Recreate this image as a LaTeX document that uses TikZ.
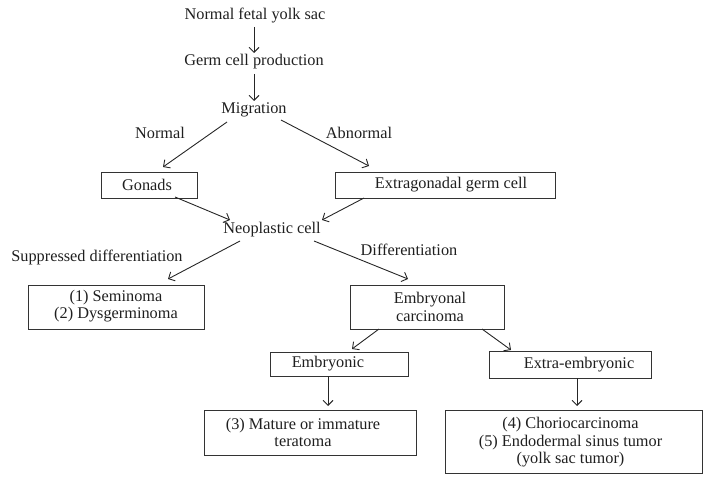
\documentclass[tikz,border=0pt]{standalone}
\usepackage{fontspec}
\setmainfont{Liberation Serif}
\usetikzlibrary{arrows.meta,calc}
\begin{document}
\begin{tikzpicture}[x=1pt,y=-1pt,
  txt/.style={inner sep=0pt, font=\fontsize{16.3}{17.5}\selectfont, align=center, text=black!88},
  boxn/.style={draw=black!80, line width=0.9pt, inner sep=0pt},
  arr/.style={-{Straight Barb[length=5pt,width=10pt]}, line width=0.9pt, draw=black!85}]
\useasboundingbox (0,0) rectangle (712,484);

% plain text nodes
\node[txt] (top)  at (255,16)  {Normal fetal yolk sac};
\node[txt] (germ) at (254,62)  {Germ cell production};
\node[txt] (mig)  at (254,110) {Migration};
\node[txt] (lblN) at (160,133) {Normal};
\node[txt] (lblA) at (359,133) {Abnormal};
\node[txt] (neo)  at (272,230) {Neoplastic cell};
\node[txt] (lblS) at (97,257)  {Suppressed differentiation};
\node[txt] (lblD) at (409,250) {Differentiation};

% boxes
\node[boxn, minimum width=96pt,  minimum height=26pt] (gon) at (149,185) {};
\node[boxn, minimum width=220pt, minimum height=26pt] (ext) at (445,185) {};
\node[boxn, minimum width=176pt, minimum height=44pt] (sem) at (116,307) {};
\node[boxn, minimum width=154pt, minimum height=44pt] (emb) at (427,307) {};
\node[boxn, minimum width=138pt, minimum height=24pt] (embc) at (339,364) {};
\node[boxn, minimum width=162pt, minimum height=27pt] (extra) at (570,364.5) {};
\node[boxn, minimum width=212pt, minimum height=45pt] (mat) at (310,432.5) {};
\node[boxn, minimum width=257pt, minimum height=63pt] (cho) at (573.5,441.5) {};

% box texts
\node[txt] (gont)   at ($(gon.center)+(-2,0)$)   {Gonads};
\node[txt] (extt)   at ($(ext.center)+(6,0)$)    {Extragonadal germ cell};
\node[txt] (semt)   at ($(sem.center)+(0,-1)$)   {(1) Seminoma\\(2) Dysgerminoma};
\node[txt] (embt)   at ($(emb.center)+(3,0)$)    {Embryonal\\carcinoma};
\node[txt] (embct)  at ($(embc.center)+(-11,0)$) {Embryonic};
\node[txt] (extrat) at ($(extra.center)+(9,0)$)  {Extra-embryonic};
\node[txt] (matt)   at ($(mat.center)+(-7,0)$)   {(3) Mature or immature\\teratoma};
\node[txt] (chot)   at ($(cho.center)+(-3,1)$)   {(4) Choriocarcinoma\\(5) Endodermal sinus tumor\\(yolk sac tumor)};

% connectors
\draw[arr] ($(top.center)+(-1,11)$)  -- ($(germ.center)+(0,-9)$);
\draw[arr] ($(germ.center)+(0,12)$)  -- ($(mig.center)+(0,-9)$);
\draw[arr] ($(mig.center)+(-27,12)$) -- ($(gon.center)+(14,-18)$);
\draw[arr] ($(mig.center)+(27,10)$)  -- ($(ext.center)+(-76,-19)$);
\draw[arr] ($(gon.center)+(26,12)$)  -- ($(neo.center)+(-42,-10)$);
\draw[arr] ($(ext.center)+(-81,13)$) -- ($(neo.center)+(50,-10)$);
\draw[arr] ($(neo.center)+(-32,11)$) -- ($(sem.center)+(52,-28)$);
\draw[arr] ($(neo.center)+(42,11)$)  -- ($(emb.center)+(-19,-28)$);
\draw[arr] ($(emb.center)+(-48,22)$) -- ($(embc.center)+(13,-15)$);
\draw[arr] ($(emb.center)+(55,22)$)  -- ($(extra.center)+(-59,-14.5)$);
\draw[arr] ($(embc.center)+(-11,12)$) -- ($(mat.center)+(18,-26.5)$);
\draw[arr] ($(extra.center)+(7,13.5)$) -- ($(cho.center)+(3.5,-35.5)$);
\end{tikzpicture}
\end{document}
